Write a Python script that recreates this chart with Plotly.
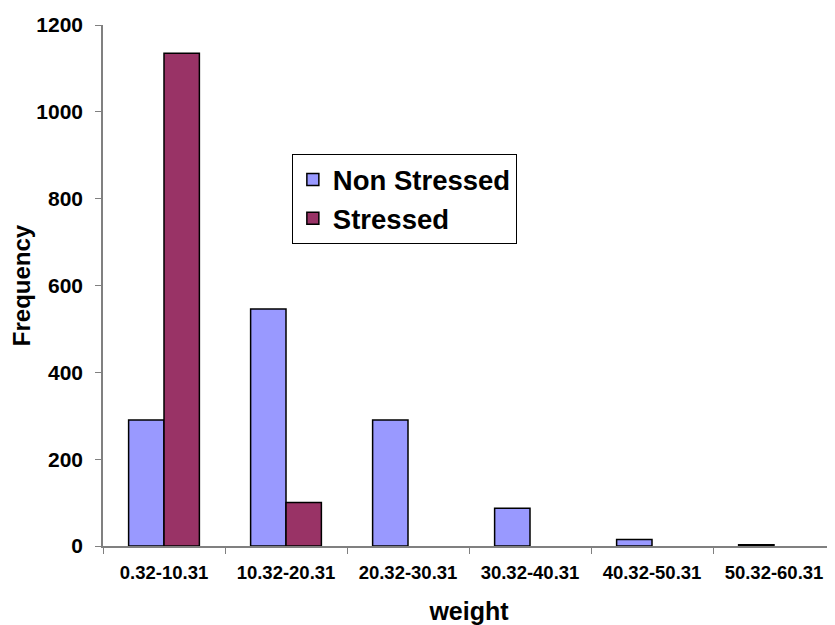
import plotly.graph_objects as go

categories = ["0.32-10.31", "10.32-20.31", "20.32-30.31", "30.32-40.31", "40.32-50.31", "50.32-60.31"]
non_stressed = [290, 546, 290, 87, 15, 3]
stressed = [1135, 100, 0, 0, 0, 0]
y_ticks = [0, 200, 400, 600, 800, 1000, 1200]

FONT = "Liberation Sans, Arial, sans-serif"


def edge_widths(vals):
    return [1.5 if v > 0 else 0 for v in vals]


fig = go.Figure()
fig.add_trace(go.Bar(name="Non Stressed", x=categories, y=non_stressed,
                     marker=dict(color="#9999FF", line=dict(color="black", width=edge_widths(non_stressed)))))
fig.add_trace(go.Bar(name="Stressed", x=categories, y=stressed,
                     marker=dict(color="#993366", line=dict(color="black", width=edge_widths(stressed)))))

fig.update_layout(
    width=827, height=617,
    margin=dict(l=95, r=0, t=17, b=79, autoexpand=False),
    paper_bgcolor="white", plot_bgcolor="white",
    barmode="group", bargap=0.42, bargroupgap=0,
    font=dict(family=FONT, color="black"),
    legend=dict(x=0.258, y=0.752, xanchor="left", yanchor="top",
                bordercolor="black", borderwidth=1, bgcolor="white",
                font=dict(size=27.5, family=FONT, weight="bold"),
                tracegroupgap=0),
    xaxis=dict(
        type="category", showline=True, linecolor="#808080", linewidth=1.5,
        ticks="outside", tickson="boundaries", ticklen=6, tickcolor="#808080",
        tickfont=dict(size=18.5, family=FONT, weight="bold"),
        ticklabelstandoff=9,
        title=dict(text="weight", font=dict(size=25, family=FONT, weight="bold"), standoff=21),
        showgrid=False, automargin=False,
    ),
    yaxis=dict(
        range=[0, 1200], tickvals=y_ticks, showline=True, linecolor="#808080", linewidth=1.5,
        ticks="outside", ticklen=6, tickcolor="#808080",
        tickfont=dict(size=21, family=FONT, weight="bold"),
        ticklabelstandoff=8,
        title=dict(text="Frequency", font=dict(size=24, family=FONT, weight="bold"), standoff=7),
        showgrid=False, zeroline=False, automargin=False,
    ),
)

fig.write_html("out.html")
